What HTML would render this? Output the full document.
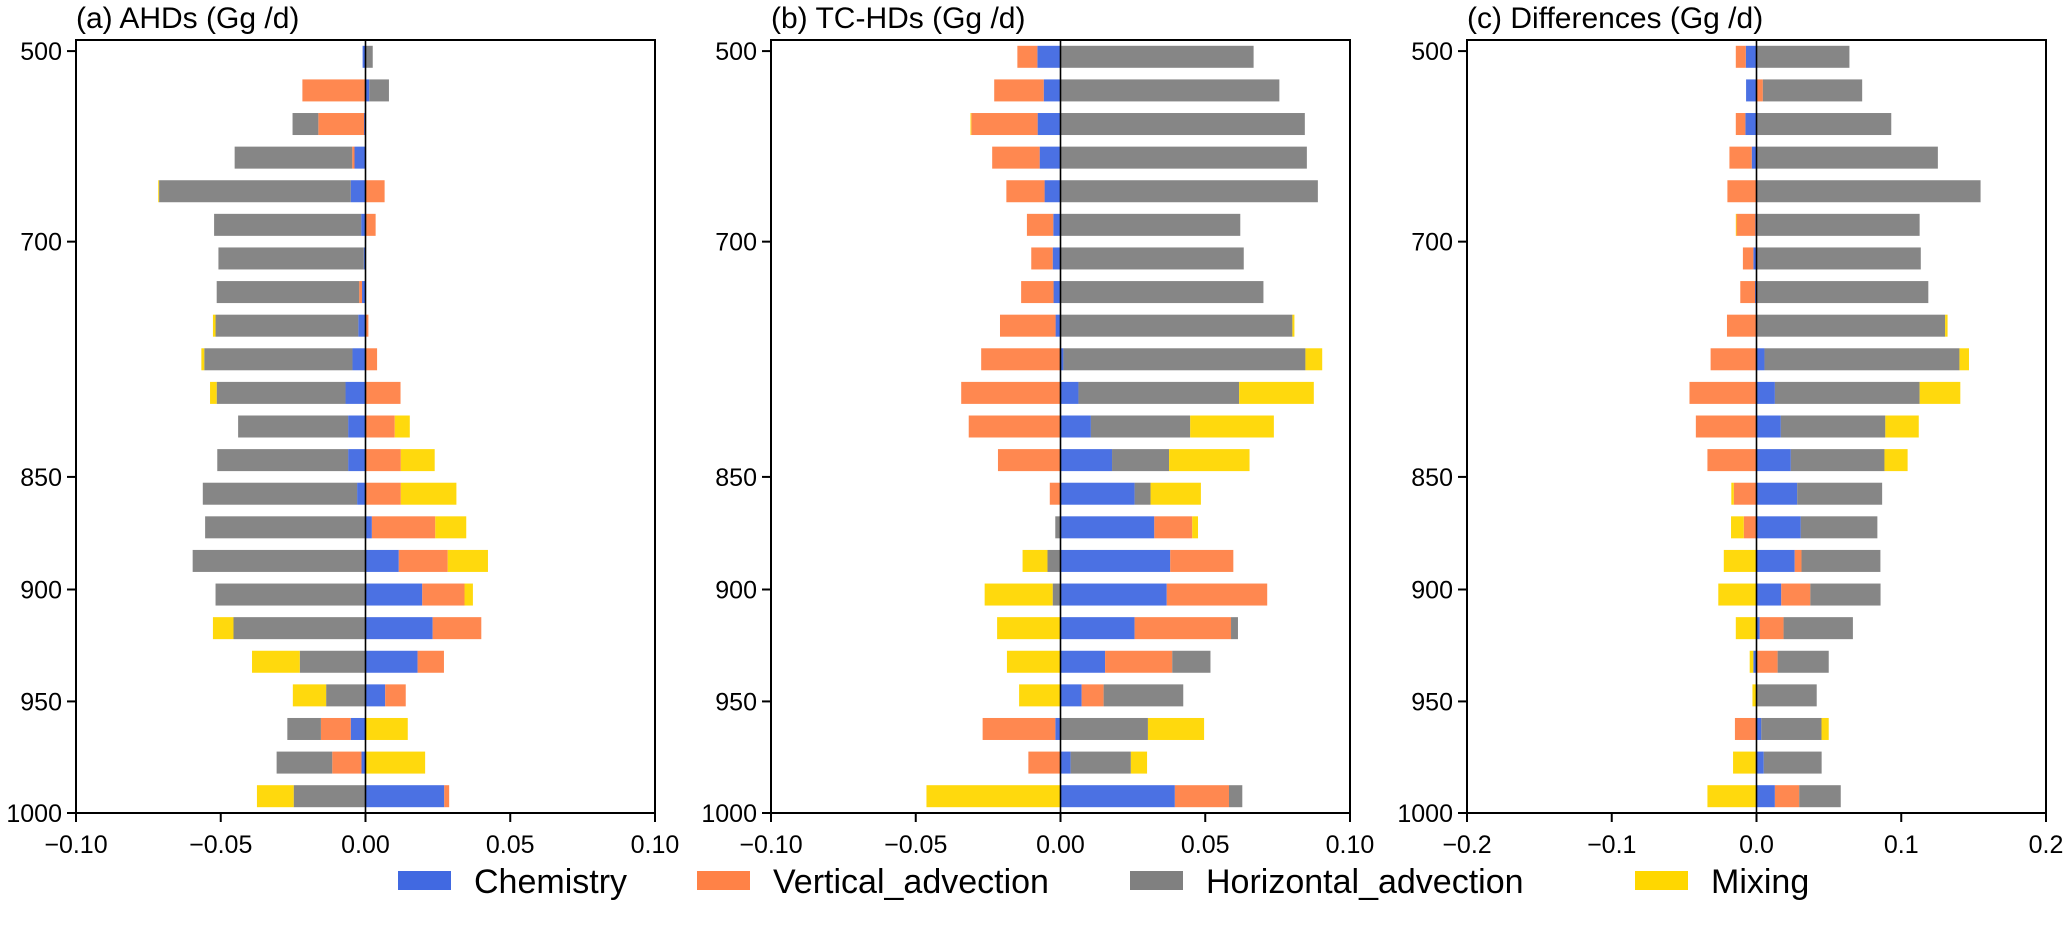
<!DOCTYPE html>
<html><head><meta charset="utf-8">
<style>
html,body{margin:0;padding:0;background:#fff;}
svg{display:block;font-family:"Liberation Sans",Arial,sans-serif;}
</style></head>
<body>
<svg id="chart" width="2067" height="935" viewBox="0 0 2067 935" xmlns="http://www.w3.org/2000/svg"></svg>
<script>
// ---- data ----
const seriesNames = ["Chemistry", "Vertical_advection", "Horizontal_advection", "Mixing"];
const yTickLabels = ["500", "700", "850", "900", "950", "1000"];
const yTickIdx = [-0.17, 5.5, 12.5, 15.85, 19.18, 22.5];
const panelTitles = ["(a) AHDs (Gg /d)", "(b) TC-HDs (Gg /d)", "(c) Differences (Gg /d)"];
const xTicksAB = [-0.1, -0.05, 0, 0.05, 0.1];
const xTickLabelsAB = ["\u22120.10", "\u22120.05", "0.00", "0.05", "0.10"];
const xTicksC = [-0.2, -0.1, 0, 0.1, 0.2];
const xTickLabelsC = ["\u22120.2", "\u22120.1", "0.0", "0.1", "0.2"];

const aChem = [-0.001, 0.0013, -0.0005, -0.0038, -0.0051, -0.0015, -0.0006, -0.0012, -0.0025, -0.0045, -0.0069, -0.006, -0.006, -0.0029, 0.0022, 0.0115, 0.0196, 0.0232, 0.018, 0.0068, -0.0051, -0.0014, 0.0272];
const aVert = [0, -0.0218, -0.0158, -0.0008, 0.0066, 0.0035, 0, -0.001, 0.001, 0.004, 0.0121, 0.0101, 0.0122, 0.0122, 0.0219, 0.0169, 0.0146, 0.0168, 0.0091, 0.0071, -0.0103, -0.0101, 0.0017];
const aHoriz = [0.0025, 0.0068, -0.0089, -0.0406, -0.0662, -0.0508, -0.0502, -0.0492, -0.0493, -0.0512, -0.0445, -0.038, -0.0452, -0.0533, -0.0554, -0.0597, -0.0518, -0.0456, -0.0227, -0.0136, -0.0116, -0.0192, -0.0248];
const aMix = [0, 0, 0, 0, -0.0003, 0, 0, 0, -0.0009, -0.001, -0.0023, 0.0052, 0.0117, 0.0192, 0.0107, 0.0139, 0.0029, -0.0071, -0.0165, -0.0115, 0.0146, 0.0206, -0.0127];

const bChem = [-0.008, -0.0058, -0.0079, -0.0072, -0.0055, -0.0025, -0.0027, -0.0024, -0.0017, 0.001, 0.0062, 0.0105, 0.0178, 0.0256, 0.0324, 0.0379, 0.0367, 0.0256, 0.0154, 0.0073, -0.0018, 0.0035, 0.0395];
const bVert = [-0.0069, -0.0171, -0.0229, -0.0164, -0.0132, -0.0091, -0.0074, -0.0112, -0.0192, -0.0274, -0.0343, -0.0317, -0.0216, -0.0037, 0.0131, 0.0218, 0.0347, 0.0333, 0.0232, 0.0076, -0.0251, -0.0111, 0.0187];
const bHoriz = [0.0667, 0.0756, 0.0844, 0.0851, 0.0889, 0.0621, 0.0633, 0.0701, 0.0801, 0.0836, 0.0555, 0.0343, 0.0197, 0.0055, -0.0018, -0.0045, -0.0027, 0.0024, 0.0132, 0.0275, 0.0302, 0.0208, 0.0046];
const bMix = [0, 0, -0.0003, 0, 0, 0, 0, 0, 0.0007, 0.0058, 0.0258, 0.0289, 0.0278, 0.0174, 0.002, -0.0086, -0.0235, -0.0219, -0.0185, -0.0143, 0.0194, 0.0056, -0.0463];

const cChem = [-0.0074, -0.0072, -0.0077, -0.0033, -0.0003, -0.0008, -0.0022, -0.001, 0, 0.0055, 0.0127, 0.0168, 0.0237, 0.0281, 0.0306, 0.0264, 0.0171, 0.0022, -0.0022, 0, 0.0033, 0.005, 0.0127];
const cVert = [-0.0069, 0.0044, -0.0066, -0.0154, -0.0198, -0.013, -0.0072, -0.0102, -0.0204, -0.0317, -0.0463, -0.0419, -0.0339, -0.0157, -0.0088, 0.0047, 0.0201, 0.0165, 0.0146, 0, -0.0149, -0.0005, 0.0168];
const cHoriz = [0.0642, 0.0686, 0.0931, 0.1253, 0.1548, 0.1127, 0.1135, 0.1187, 0.1303, 0.1347, 0.1, 0.0722, 0.0647, 0.0587, 0.0529, 0.0545, 0.0485, 0.0479, 0.0353, 0.0416, 0.0416, 0.04, 0.0287];
const cMix = [0, 0, 0, 0, 0, -0.0005, 0, 0, 0.0017, 0.0066, 0.0281, 0.0231, 0.016, -0.0017, -0.0088, -0.0226, -0.0264, -0.0143, -0.0025, -0.0028, 0.005, -0.0157, -0.0339];

// ---- drawing ----
const NS = "http://www.w3.org/2000/svg";
const svg = document.getElementById("chart");
const colors = ["#4169e1", "#ff8247", "#808080", "#ffd700"];
const TOP = 40, BOTTOM = 813, PW = 579, NB = 23, BH = 22;
const panelLeft = [76, 771, 1467];
function mk(tag, attrs, parent) {
  const e = document.createElementNS(NS, tag);
  for (const k in attrs) e.setAttribute(k, attrs[k]);
  (parent || svg).appendChild(e);
  return e;
}
function yScale(i) { return TOP + (i + 0.5) * (BOTTOM - TOP) / NB; }

const panels = [
  { series: [aChem, aVert, aHoriz, aMix], lim: 0.1, ticks: xTicksAB, labels: xTickLabelsAB, key: "ahds" },
  { series: [bChem, bVert, bHoriz, bMix], lim: 0.1, ticks: xTicksAB, labels: xTickLabelsAB, key: "tc-hds" },
  { series: [cChem, cVert, cHoriz, cMix], lim: 0.2, ticks: xTicksC, labels: xTickLabelsC, key: "differences" }
];

panels.forEach((p, pi) => {
  const L = panelLeft[pi];
  const xScale = v => L + (v + p.lim) / (2 * p.lim) * PW;
  const g = mk("g", {});
  
  

  const title = mk("text", { x: L, y: 28, "font-size": 30, fill: "#000" }, g);
  title.textContent = panelTitles[pi];
  
  

  for (let i = 0; i < NB; i++) {
    let pos = 0, neg = 0;
    for (let s = 0; s < 4; s++) {
      const v = p.series[s][i];
      if (!v) continue;
      let x0, x1;
      if (v > 0) { x0 = pos; x1 = pos + v; pos = x1; }
      else { x1 = neg; x0 = neg + v; neg = x0; }
      const r = mk("rect", {
        x: xScale(x0), y: yScale(i) - BH / 2,
        width: Math.max(0.5, xScale(x1) - xScale(x0)), height: BH,
        fill: colors[s], "fill-opacity": 0.95
      }, g);
      
      
    }
  }

  const z = mk("line", { x1: xScale(0), x2: xScale(0), y1: TOP, y2: BOTTOM, stroke: "#000", "stroke-width": 1.6 }, g);
  
  

  const fr = mk("rect", { x: L, y: TOP, width: PW, height: BOTTOM - TOP, fill: "none", stroke: "#000", "stroke-width": 2 }, g);
  
  

  p.ticks.forEach((t, k) => {
    const x = xScale(t);
    const tl = mk("line", { x1: x, x2: x, y1: BOTTOM, y2: BOTTOM + 9, stroke: "#000", "stroke-width": 2 }, g);
    
    
    const tx = mk("text", { x: x, y: BOTTOM + 40, "font-size": 25, "text-anchor": "middle", fill: "#000" }, g);
    tx.textContent = p.labels[k];
    
    
  });

  yTickIdx.forEach((ti, k) => {
    const y = yScale(ti);
    const tl = mk("line", { x1: L - 9, x2: L, y1: y, y2: y, stroke: "#000", "stroke-width": 2 }, g);
    
    
    const tx = mk("text", { x: L - 14, y: y + 9, "font-size": 25, "text-anchor": "end", fill: "#000" }, g);
    tx.textContent = yTickLabels[k];
    
    
  });
});

const legendPatchX = [398, 697, 1130, 1635];
const leg = mk("g", {});


seriesNames.forEach((n, s) => {
  const r = mk("rect", { x: legendPatchX[s], y: 871, width: 53, height: 19, fill: colors[s] }, leg);
  
  
  const t = mk("text", { x: legendPatchX[s] + 76, y: 893, "font-size": 34, fill: "#000" }, leg);
  t.textContent = n;
  
  
});
</script>
</body></html>
